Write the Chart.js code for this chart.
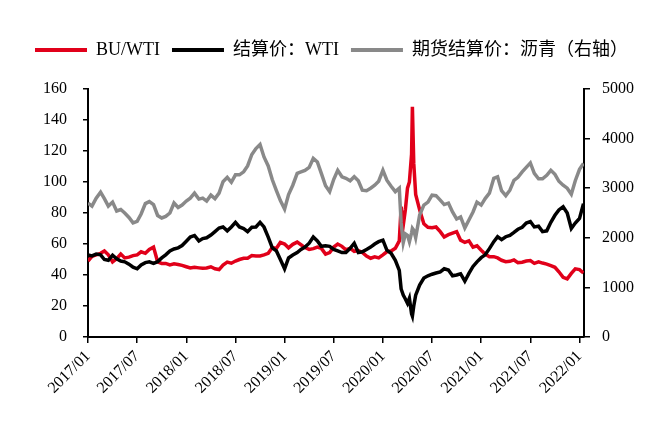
<!DOCTYPE html>
<html>
<head>
<meta charset="utf-8">
<script src="https://cdn.jsdelivr.net/npm/chart.js@4/dist/chart.umd.min.js"></script>
<style>
  html, body { margin: 0; padding: 0; background: #fff; }
  #wrap { width: 657px; height: 423px; }
</style>
</head>
<body>
<div id="wrap"><canvas id="c" width="657" height="423"></canvas></div>
<script>
// ---- data ----
const dates = [
  '2017-01-01','2017-01-16','2017-02-01','2017-02-16','2017-03-01','2017-03-16','2017-04-01','2017-04-16','2017-05-01','2017-05-16','2017-06-01','2017-06-16',
  '2017-07-01','2017-07-16','2017-08-01','2017-08-16','2017-09-01','2017-09-16','2017-10-01','2017-10-16','2017-11-01','2017-11-16','2017-12-01','2017-12-16',
  '2018-01-01','2018-01-16','2018-02-01','2018-02-16','2018-03-01','2018-03-16','2018-04-01','2018-04-16','2018-05-01','2018-05-16','2018-06-01','2018-06-16',
  '2018-07-01','2018-07-16','2018-08-01','2018-08-16','2018-09-01','2018-09-16','2018-10-01','2018-10-16','2018-11-01','2018-11-16','2018-12-01','2018-12-16',
  '2019-01-01','2019-01-16','2019-02-01','2019-02-16','2019-03-01','2019-03-16','2019-04-01','2019-04-16','2019-05-01','2019-05-16','2019-06-01','2019-06-16',
  '2019-07-01','2019-07-16','2019-08-01','2019-08-16','2019-09-01','2019-09-16','2019-10-01','2019-10-16','2019-11-01','2019-11-16','2019-12-01','2019-12-16',
  '2020-01-01','2020-01-16','2020-02-01','2020-02-16','2020-03-01','2020-03-08','2020-03-16','2020-03-24','2020-04-01','2020-04-08','2020-04-16','2020-04-19','2020-04-24',
  '2020-05-01','2020-05-16','2020-06-01','2020-06-16','2020-07-01','2020-07-16','2020-08-01','2020-08-16','2020-09-01','2020-09-16','2020-10-01','2020-10-16',
  '2020-11-01','2020-11-16','2020-12-01','2020-12-16',
  '2021-01-01','2021-01-16','2021-02-01','2021-02-16','2021-03-01','2021-03-16','2021-04-01','2021-04-16','2021-05-01','2021-05-16','2021-06-01','2021-06-16',
  '2021-07-01','2021-07-16','2021-08-01','2021-08-16','2021-09-01','2021-09-16','2021-10-01','2021-10-16','2021-11-01','2021-11-16','2021-12-01','2021-12-16',
  '2022-01-01','2022-01-16'
];

// BU/WTI (left axis)
const buWti = [
  49,52,53,54,55.5,53,48.5,50.5,53.5,51,51.5,52.5, 53,55,54,56.5,58,48.5,47.5,47.5,46.5,47.2,46.8,46.2,
  45.3,44.5,45,44.6,44.3,44.5,45.3,44,43.5,46.4,48.3,47.6, 49,50,50.8,50.8,52.5,52.3,52.3,53,54,57.8,57.2,61,
  60,57.5,59.8,61.2,59.5,57.7,56.5,57,58,57.2,53.5,54.5, 58,60,58.5,56.3,57.2,55.3,55.8,54.5,52.2,50.8,51.7,51,
  53,55,55.5,57.2,62, 84,72,82,96,100,118,148.5,112,92,
  82,73,70.8,70.5,71,68,64.5,66,67,68,62.5,61,62,58,58.8,
  56,53.5,51.8,51.8,51,49.5,48.6,48.8,49.7,48,48.2,49, 49.3,47.5,48.5,47.7,47,46,45,42.1,38.5,37.5,41,44,
  43.5,41.3
];

// 结算价：WTI (left axis)
const wti = [
  53,52.3,53.5,53,50,49.5,52.8,50.5,49,48.5,47,45, 44,46.5,48,48.5,47.5,48.6,51,53,55.5,56.8,57.5,59,
  61.8,64.5,65.5,62,63.5,64,65.8,68,70.3,71,68.5,71, 74,71,70,68,70.8,71,74,71,64.5,57.5,55.5,50,
  44,51,52.9,54.5,56.5,58,60.5,64.5,62,58.5,58.8,58.5, 56.5,55.5,54.5,54.5,57.2,60.5,54.5,55,56.5,58,60,61.5,
  62.5,56,54,49.5,43, 31,27,24.5,21.7,25,15,13.5,20,27,
  33.5,38,39.5,40.5,41.3,42,44,43.2,39.5,40,40.8,36,41,45.5,48.5,
  51.2,53,57,61.5,64.7,62.8,64.7,65.6,67.5,69.5,70.8,73.5, 74.5,71,71.5,68,68.5,74,78.5,82,84,80,70,73.5,
  76.5,86
];

// 期货结算价：沥青 (right axis)
const asphalt = [
  2700,2640,2800,2920,2790,2640,2720,2540,2570,2500,2410,2300, 2330,2480,2690,2730,2670,2450,2400,2430,2500,2700,2610,2660,
  2740,2800,2900,2780,2800,2740,2860,2790,2900,3130,3220,3120, 3270,3270,3330,3450,3680,3800,3880,3630,3450,3170,2950,2750,
  2580,2870,3060,3300,3330,3360,3420,3600,3530,3300,3050,2930, 3180,3360,3230,3200,3150,3230,3150,2960,2950,3000,3060,3140,
  3360,3160,3040,2930,3000, 2300,1900,2080,2050,1920,2100,2190,2150,2000,
  2460,2660,2720,2860,2850,2760,2670,2700,2520,2380,2420,2200,2360,2520,2720,
  2660,2790,2900,3200,3230,2950,2850,2960,3160,3220,3330,3420, 3510,3300,3190,3190,3260,3360,3280,3140,3060,3000,2880,3150,
  3380,3500
];

const seriesNames = ['BU/WTI', '结算价：WTI', '期货结算价：沥青（右轴）'];
const tickLabels = ['2017/01','2017/07','2018/01','2018/07','2019/01','2019/07','2020/01','2020/07','2021/01','2021/07','2022/01'];
const leftTicks = { min: 0, max: 160, step: 20 };
const rightTicks = { min: 0, max: 5000, step: 1000 };
const axisEndDate = '2022-01-18';

// ---- helpers ----
function monthsSince2017(s) {
  const p = s.split(/[-\/]/).map(Number);
  const y = p[0], m = p[1], d = p[2] || 1;
  const dim = new Date(y, m, 0).getDate();
  return (y - 2017) * 12 + (m - 1) + (d - 1) / dim;
}
const xs = dates.map(monthsSince2017);
const pts = arr => arr.map((v, i) => ({ x: xs[i], y: v }));
const tickPos = tickLabels.map(monthsSince2017);

const FONT = '"Liberation Serif", "Times New Roman", "Noto Sans CJK SC", serif';
const RED = '#E1001A', BLACK = '#000000', GRAY = '#898989';

new Chart(document.getElementById('c'), {
  type: 'line',
  data: {
    datasets: [
      { label: seriesNames[0], data: pts(buWti), yAxisID: 'y', borderColor: RED, backgroundColor: RED, borderWidth: 3.5, pointRadius: 0, order: 3 },
      { label: seriesNames[1], data: pts(wti), yAxisID: 'y', borderColor: BLACK, backgroundColor: BLACK, borderWidth: 3.5, pointRadius: 0, order: 2 },
      { label: seriesNames[2], data: pts(asphalt), yAxisID: 'y2', borderColor: GRAY, backgroundColor: GRAY, borderWidth: 3.5, pointRadius: 0, order: 1 }
    ]
  },
  options: {
    responsive: false,
    animation: false,
    layout: { padding: { left: 23, top: 29, right: 0, bottom: 0 } },
    plugins: {
      tooltip: { enabled: false },
      legend: {
        position: 'top',
        align: 'start',
        labels: {
          boxWidth: 52,
          boxHeight: 4,
          padding: 12,
          color: '#000',
          font: { family: FONT, size: 18 },
          sort: (a, b) => a.datasetIndex - b.datasetIndex,
          generateLabels(chart) {
            const items = Chart.defaults.plugins.legend.labels.generateLabels(chart);
            items.forEach(it => { it.lineWidth = 0; it.fillStyle = it.strokeStyle; });
            return items;
          }
        }
      }
    },
    scales: {
      x: {
        type: 'linear',
        position: 'bottom',
        min: 0,
        max: monthsSince2017(axisEndDate),
        afterBuildTicks(s) { s.ticks = tickPos.map(v => ({ value: v })); },
        afterFit(s) { s.height = 86; },
        ticks: {
          color: '#000',
          font: { family: FONT, size: 16 },
          minRotation: 45, maxRotation: 45,
          padding: 4,
          autoSkip: false,
          callback(v) { const i = tickPos.indexOf(v); return i >= 0 ? tickLabels[i] : ''; }
        },
        grid: { drawOnChartArea: false, color: '#000', tickLength: 6, lineWidth: 1.5 },
        border: { color: '#000', width: 2 }
      },
      xTopSpacer: {
        type: 'linear',
        position: 'top',
        display: true,
        grid: { display: false },
        ticks: { display: false },
        border: { display: false },
        afterFit(s) { s.height = 20; }
      },
      y: {
        position: 'left',
        min: leftTicks.min, max: leftTicks.max,
        afterFit(s) { s.width = 65; },
        ticks: { stepSize: leftTicks.step, color: '#000', font: { family: FONT, size: 16 }, padding: 16, callback: v => String(v) },
        grid: { drawOnChartArea: false, color: '#000', tickLength: 5, lineWidth: 1.5 },
        border: { color: '#000', width: 2 }
      },
      y2: {
        position: 'right',
        min: rightTicks.min, max: rightTicks.max,
        afterFit(s) { s.width = 73; },
        ticks: { stepSize: rightTicks.step, color: '#000', font: { family: FONT, size: 16 }, padding: 12, callback: v => String(v) },
        grid: { drawOnChartArea: false, color: '#000', tickLength: 6, lineWidth: 1.5 },
        border: { color: '#000', width: 2 }
      }
    }
  }
});
</script>
</body>
</html>
